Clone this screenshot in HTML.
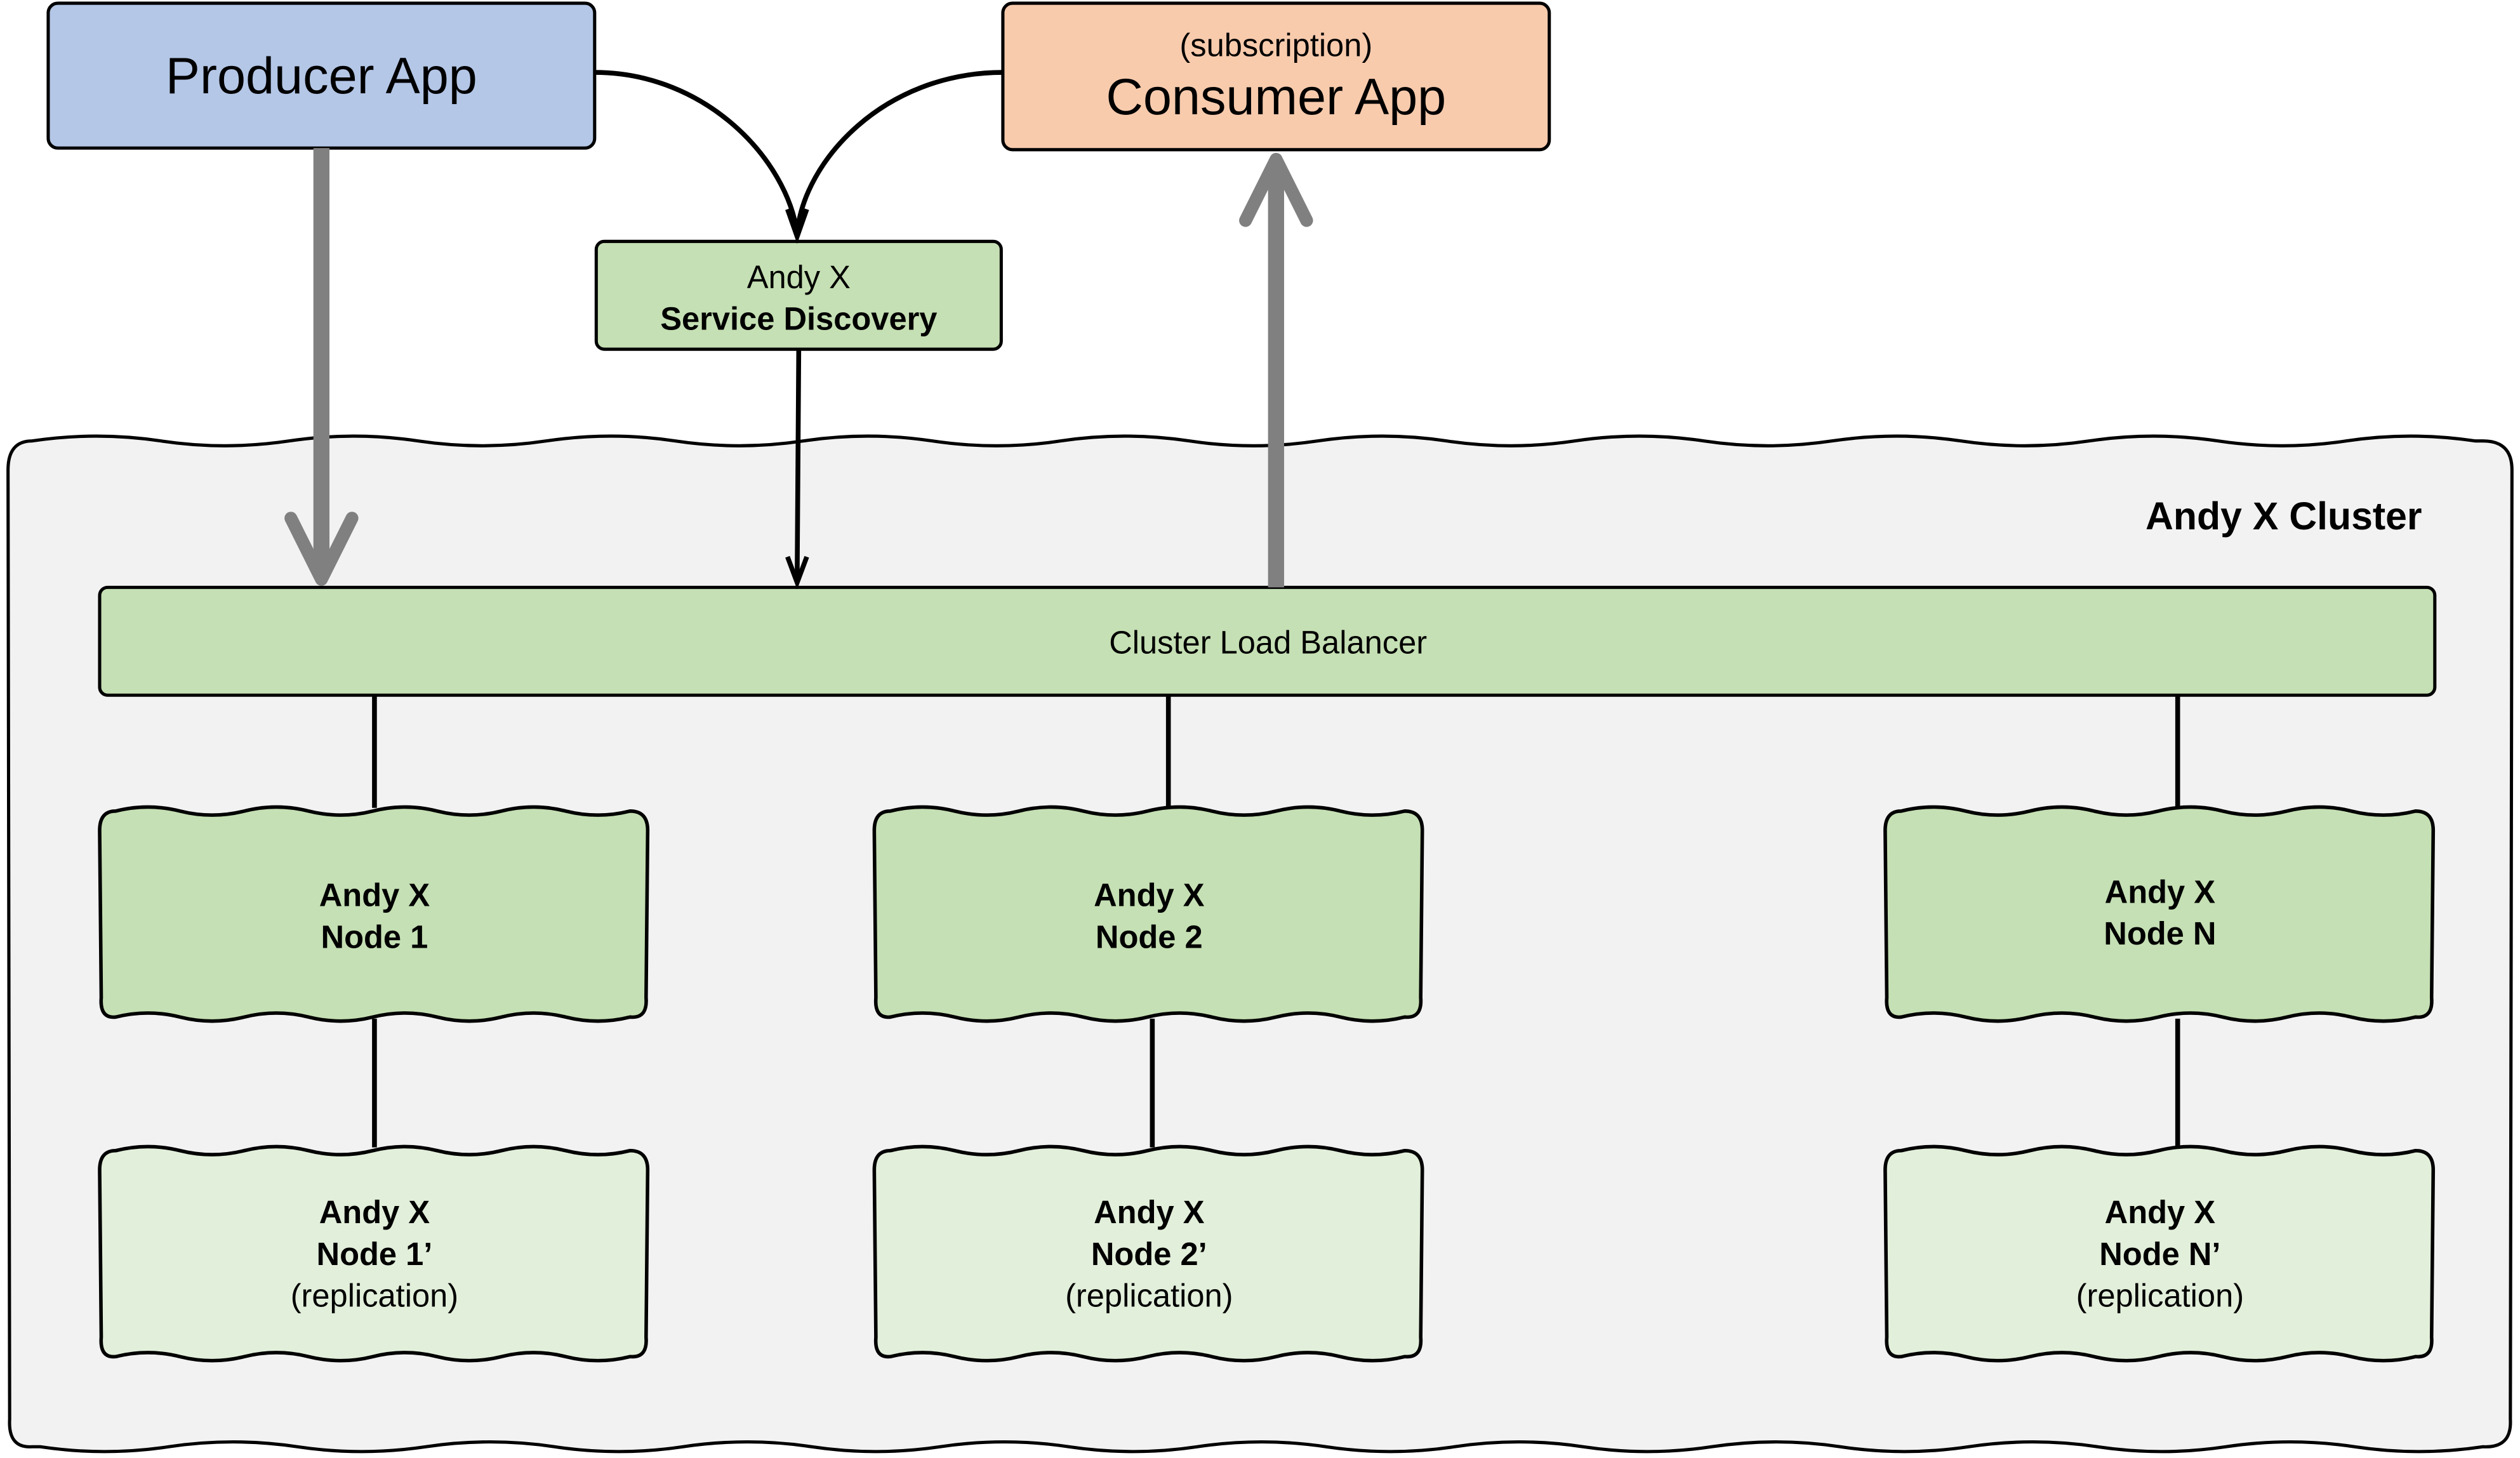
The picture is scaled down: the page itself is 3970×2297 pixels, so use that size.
<!DOCTYPE html>
<html><head><meta charset="utf-8"><style>
html,body{margin:0;padding:0;background:#fff;width:3970px;height:2297px;overflow:hidden}
svg{display:block}
text{font-family:"Liberation Sans",sans-serif;fill:#000}
</style></head><body>
<svg width="3970" height="2297" viewBox="0 0 1568 906" preserveAspectRatio="none" xmlns="http://www.w3.org/2000/svg">
<defs>
<path id="nb" d="M10,2 q20,-5 40,0 t40,0 t40,0 t40,0 t40,0 t40,0 t40,0 t40,0 Q341,2 341,14 L340,118 Q341,131 330,130 q-20,5 -40,0 t-40,0 t-40,0 t-40,0 t-40,0 t-40,0 t-40,0 t-40,0 Q0,131 1,118 L0,14 Q0,2 10,2 Z" stroke="#000" stroke-width="2.2"/>
</defs>
<!-- cluster -->
<path d="M20,274 q40,-6 80,0 t80,0 t80,0 t80,0 t80,0 t80,0 t80,0 t80,0 t80,0 t80,0 t80,0 t80,0 t80,0 t80,0 t80,0 t80,0 t80,0 t80,0 t80,0 L1545,274 Q1563,274 1563,292 L1562,882 Q1563,900 1545,899 q-40,6 -80,0 t-80,0 t-80,0 t-80,0 t-80,0 t-80,0 t-80,0 t-80,0 t-80,0 t-80,0 t-80,0 t-80,0 t-80,0 t-80,0 t-80,0 t-80,0 t-80,0 t-80,0 t-80,0 L20,899 Q5,900 6,882 L5,292 Q5,274 20,274 Z" fill="#f2f2f2" stroke="#000" stroke-width="2"/>
<text x="1507" y="329" text-anchor="end" font-size="24" font-weight="bold">Andy X Cluster</text>
<!-- connectors -->
<g stroke="#000" stroke-width="3" fill="none">
<line x1="233" y1="432" x2="233" y2="502"/>
<line x1="727" y1="432" x2="727" y2="502"/>
<line x1="1355" y1="432" x2="1355" y2="502"/>
<line x1="233" y1="633" x2="233" y2="713"/>
<line x1="717" y1="633" x2="717" y2="713"/>
<line x1="1355" y1="633" x2="1355" y2="713"/>
</g>
<!-- LB -->
<rect x="62" y="365" width="1453" height="67" rx="5" fill="#c5e0b4" stroke="#000" stroke-width="2"/>
<text x="789" y="406" text-anchor="middle" font-size="20">Cluster Load Balancer</text>
<!-- nodes -->
<use href="#nb" transform="translate(62,502)" fill="#c5e0b4"/>
<use href="#nb" transform="translate(544,502)" fill="#c5e0b4"/>
<use href="#nb" transform="translate(1173,502)" fill="#c5e0b4"/>
<use href="#nb" transform="translate(62,713)" fill="#e2efda"/>
<use href="#nb" transform="translate(544,713)" fill="#e2efda"/>
<use href="#nb" transform="translate(1173,713)" fill="#e2efda"/>
<g font-size="20" font-weight="bold" text-anchor="middle">
<text x="233" y="563">Andy X</text><text x="233" y="589">Node 1</text>
<text x="715" y="563">Andy X</text><text x="715" y="589">Node 2</text>
<text x="1344" y="561">Andy X</text><text x="1344" y="587">Node N</text>
<text x="233" y="760">Andy X</text><text x="233" y="786">Node 1’</text>
<text x="715" y="760">Andy X</text><text x="715" y="786">Node 2’</text>
<text x="1344" y="760">Andy X</text><text x="1344" y="786">Node N’</text>
</g>
<g font-size="20" text-anchor="middle">
<text x="233" y="812">(replication)</text>
<text x="715" y="812">(replication)</text>
<text x="1344" y="812">(replication)</text>
</g>
<!-- top boxes -->
<rect x="30" y="2" width="340" height="90" rx="6" fill="#b4c7e7" stroke="#000" stroke-width="2"/>
<text x="200" y="58" text-anchor="middle" font-size="32">Producer App</text>
<rect x="624" y="2" width="340" height="91" rx="6" fill="#f8cbad" stroke="#000" stroke-width="2"/>
<text x="794" y="35" text-anchor="middle" font-size="20">(subscription)</text>
<text x="794" y="71" text-anchor="middle" font-size="32">Consumer App</text>
<rect x="371" y="150" width="252" height="67" rx="5" fill="#c5e0b4" stroke="#000" stroke-width="2"/>
<text x="497" y="179" text-anchor="middle" font-size="20">Andy X</text>
<text x="497" y="205" text-anchor="middle" font-size="20" font-weight="bold">Service Discovery</text>
<!-- curves -->
<g stroke="#000" stroke-width="3" fill="none">
<path d="M370,45 C440,45 490,100 496,145"/>
<path d="M624,45 C550,45 500,100 496,145"/>
<path d="M497,217 L496,360"/>
<path d="M490,130 L496,147 L502,130"/>
<path d="M490,346 L496,362 L502,346"/>
</g>
<!-- gray arrows -->
<g stroke="#808080" fill="none" stroke-linecap="round" stroke-linejoin="round">
<line x1="200" y1="92" x2="200" y2="355" stroke-width="10" stroke-linecap="butt"/>
<path d="M181,322 L200,360 L219,322" stroke-width="8"/>
<line x1="794" y1="365" x2="794" y2="102" stroke-width="10" stroke-linecap="butt"/>
<path d="M775,137 L794,99 L813,137" stroke-width="8"/>
</g>
</svg>
</body></html>
